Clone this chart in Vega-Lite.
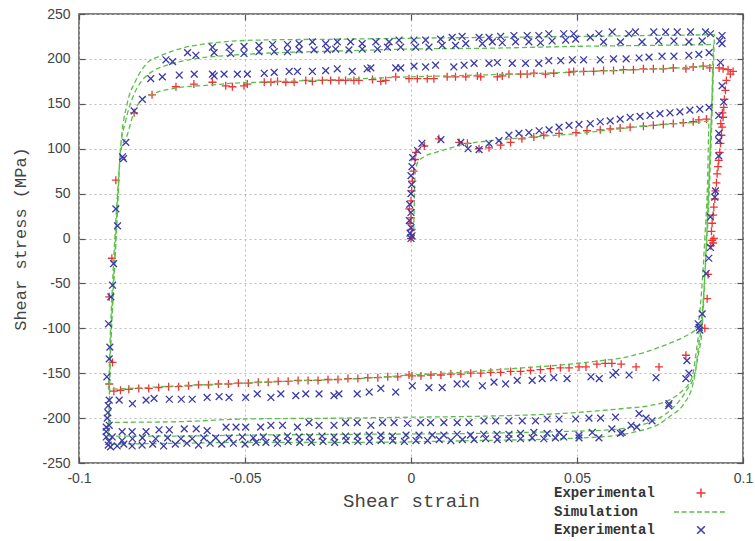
{
"$schema": "https://vega.github.io/schema/vega-lite/v6.json",
"width": 664, "height": 449,
"autosize": {"type": "none"},
"padding": {"left": 79, "top": 14, "right": 12, "bottom": 78},
"background": "white",
"config": {
  "view": {"stroke": "#555", "strokeWidth": 1.5},
  "axis": {"domain": false, "gridColor": "#bbb", "gridDash": [2, 3], "gridWidth": 1, "tickColor": "#555", "tickSize": -6, "tickWidth": 1.2, "labelFont": "Liberation Sans", "labelFontSize": 14, "labelColor": "#444", "titleFont": "Liberation Mono", "titleFontWeight": "normal", "titleColor": "#444"},
  "legend": {"orient": "none", "legendX": 465, "legendY": 472, "direction": "vertical", "labelFont": "Liberation Mono", "labelFontSize": 14, "labelFontWeight": "bold", "labelColor": "#333", "symbolOffset": 150, "labelOffset": -154, "symbolSize": 81, "symbolStrokeWidth": 1.5, "rowPadding": 4, "padding": 0}
},
"datasets": {
"sim": [
{"i":0,"strain":0.0008,"stress":0},{"i":1,"strain":0.001,"stress":40},{"i":2,"strain":0.0012,"stress":70},{"i":3,"strain":0.002,"stress":85},{"i":4,"strain":0.004,"stress":91},{"i":5,"strain":0.0075,"stress":96},{"i":6,"strain":0.012,"stress":101},{"i":7,"strain":0.016,"stress":105},{"i":8,"strain":0.022,"stress":108},{"i":9,"strain":0.03,"stress":111},{"i":10,"strain":0.04,"stress":114},{"i":11,"strain":0.0506,"stress":117},{"i":12,"strain":0.06,"stress":121},{"i":13,"strain":0.07,"stress":125},{"i":14,"strain":0.08,"stress":128},{"i":15,"strain":0.0898,"stress":131},
{"i":16,"strain":0.0893,"stress":60},{"i":17,"strain":0.0885,"stress":0},{"i":18,"strain":0.0875,"stress":-60},{"i":19,"strain":0.0862,"stress":-99},{"i":20,"strain":0.082,"stress":-110},{"i":21,"strain":0.0777,"stress":-117},{"i":22,"strain":0.071,"stress":-126},{"i":23,"strain":0.0648,"stress":-132},{"i":24,"strain":0.055,"stress":-137},{"i":25,"strain":0.0446,"stress":-141},{"i":26,"strain":0.03,"stress":-145},{"i":27,"strain":0.015,"stress":-149},{"i":28,"strain":0,"stress":-152},{"i":29,"strain":-0.0157,"stress":-156},{"i":30,"strain":-0.03,"stress":-158},{"i":31,"strain":-0.05,"stress":-161},{"i":32,"strain":-0.07,"stress":-164},{"i":33,"strain":-0.085,"stress":-167},{"i":34,"strain":-0.0912,"stress":-168},
{"i":35,"strain":-0.0905,"stress":-100},{"i":36,"strain":-0.0895,"stress":-20},{"i":37,"strain":-0.0884,"stress":50},{"i":38,"strain":-0.0874,"stress":98},{"i":39,"strain":-0.0855,"stress":115},{"i":40,"strain":-0.0835,"stress":140},{"i":41,"strain":-0.0815,"stress":153},{"i":42,"strain":-0.0785,"stress":160},{"i":43,"strain":-0.0755,"stress":164},{"i":44,"strain":-0.07,"stress":168},{"i":45,"strain":-0.06,"stress":171},{"i":46,"strain":-0.0536,"stress":173},{"i":47,"strain":-0.0455,"stress":174},{"i":48,"strain":-0.03,"stress":176},{"i":49,"strain":-0.015,"stress":178},{"i":50,"strain":0,"stress":180},{"i":51,"strain":0.02,"stress":182},{"i":52,"strain":0.04,"stress":184},{"i":53,"strain":0.06,"stress":187},{"i":54,"strain":0.075,"stress":189},{"i":55,"strain":0.0912,"stress":193},
{"i":56,"strain":0.0905,"stress":140},{"i":57,"strain":0.0895,"stress":40},{"i":58,"strain":0.0885,"stress":-40},{"i":59,"strain":0.0875,"stress":-90},{"i":60,"strain":0.0867,"stress":-106},{"i":61,"strain":0.0846,"stress":-155},{"i":62,"strain":0.081,"stress":-172},{"i":63,"strain":0.0777,"stress":-180},{"i":64,"strain":0.072,"stress":-186},{"i":65,"strain":0.0648,"stress":-189},{"i":66,"strain":0.0446,"stress":-195},{"i":67,"strain":0.02,"stress":-198},{"i":68,"strain":0,"stress":-199},{"i":69,"strain":-0.02,"stress":-200},{"i":70,"strain":-0.05,"stress":-201},{"i":71,"strain":-0.07,"stress":-204},{"i":72,"strain":-0.0912,"stress":-205},
{"i":73,"strain":-0.0905,"stress":-120},{"i":74,"strain":-0.0895,"stress":-40},{"i":75,"strain":-0.0884,"stress":40},{"i":76,"strain":-0.0875,"stress":100},{"i":77,"strain":-0.086,"stress":130},{"i":78,"strain":-0.0835,"stress":160},{"i":79,"strain":-0.081,"stress":176},{"i":80,"strain":-0.0775,"stress":187},{"i":81,"strain":-0.0735,"stress":193},{"i":82,"strain":-0.0635,"stress":201},{"i":83,"strain":-0.0545,"stress":204},{"i":84,"strain":-0.0455,"stress":206},{"i":85,"strain":-0.02,"stress":209},{"i":86,"strain":0,"stress":211},{"i":87,"strain":0.025,"stress":212},{"i":88,"strain":0.05,"stress":214},{"i":89,"strain":0.07,"stress":215},{"i":90,"strain":0.0912,"stress":216},
{"i":91,"strain":0.0905,"stress":140},{"i":92,"strain":0.0895,"stress":40},{"i":93,"strain":0.0885,"stress":-40},{"i":94,"strain":0.0875,"stress":-100},{"i":95,"strain":0.087,"stress":-110},{"i":96,"strain":0.0855,"stress":-150},{"i":97,"strain":0.083,"stress":-169},{"i":98,"strain":0.0785,"stress":-190},{"i":99,"strain":0.073,"stress":-203},{"i":100,"strain":0.066,"stress":-210},{"i":101,"strain":0.06,"stress":-213},{"i":102,"strain":0.045,"stress":-215},{"i":103,"strain":0.02,"stress":-217},{"i":104,"strain":-0.016,"stress":-218},{"i":105,"strain":-0.05,"stress":-219},{"i":106,"strain":-0.07,"stress":-220},{"i":107,"strain":-0.0912,"stress":-220},
{"i":108,"strain":-0.0905,"stress":-130},{"i":109,"strain":-0.0895,"stress":-50},{"i":110,"strain":-0.0884,"stress":30},{"i":111,"strain":-0.0875,"stress":100},{"i":112,"strain":-0.0855,"stress":150},{"i":113,"strain":-0.083,"stress":175},{"i":114,"strain":-0.0796,"stress":195},{"i":115,"strain":-0.0757,"stress":203},{"i":116,"strain":-0.0717,"stress":209},{"i":117,"strain":-0.0615,"stress":217},{"i":118,"strain":-0.0455,"stress":221},{"i":119,"strain":-0.02,"stress":222},{"i":120,"strain":0,"stress":223},{"i":121,"strain":0.05,"stress":225},{"i":122,"strain":0.07,"stress":226},{"i":123,"strain":0.0915,"stress":227},
{"i":124,"strain":0.0908,"stress":150},{"i":125,"strain":0.0898,"stress":50},{"i":126,"strain":0.0887,"stress":-30},{"i":127,"strain":0.0877,"stress":-100},{"i":128,"strain":0.0865,"stress":-130},{"i":129,"strain":0.085,"stress":-161},{"i":130,"strain":0.082,"stress":-185},{"i":131,"strain":0.078,"stress":-198},{"i":132,"strain":0.075,"stress":-206},{"i":133,"strain":0.068,"stress":-215},{"i":134,"strain":0.06,"stress":-220},{"i":135,"strain":0.045,"stress":-223},{"i":136,"strain":0.02,"stress":-225},{"i":137,"strain":-0.016,"stress":-227},{"i":138,"strain":-0.05,"stress":-227},{"i":139,"strain":-0.07,"stress":-228},{"i":140,"strain":-0.0912,"stress":-229}
],
"red": [
{"strain":0,"stress":0},{"strain":0,"stress":4},{"strain":0.0002,"stress":10},{"strain":-0.0003,"stress":17},{"strain":0,"stress":23},{"strain":-0.0005,"stress":33},{"strain":0,"stress":42},{"strain":0.0002,"stress":53},{"strain":0.0004,"stress":64},{"strain":0.0008,"stress":75},{"strain":0.0012,"stress":88},{"strain":0.0015,"stress":96},{"strain":0.004,"stress":103},{"strain":0.0084,"stress":111},{"strain":0.0145,"stress":107},{"strain":0.017,"stress":106},{"strain":0.0205,"stress":100},{"strain":0.0235,"stress":101},{"strain":0.027,"stress":104},{"strain":0.03,"stress":107},{"strain":0.0334,"stress":111},{"strain":0.037,"stress":113},{"strain":0.04,"stress":115},{"strain":0.0446,"stress":117},{"strain":0.0497,"stress":118},{"strain":0.053,"stress":120},{"strain":0.057,"stress":121},{"strain":0.06,"stress":122},{"strain":0.063,"stress":123},{"strain":0.066,"stress":124},{"strain":0.07,"stress":125},{"strain":0.073,"stress":126},{"strain":0.076,"stress":127},{"strain":0.079,"stress":128},{"strain":0.082,"stress":129},{"strain":0.085,"stress":130},{"strain":0.0867,"stress":132},{"strain":0.089,"stress":133},
{"strain":0.0928,"stress":190},{"strain":0.094,"stress":189},{"strain":0.0955,"stress":188},{"strain":0.097,"stress":186},{"strain":0.0962,"stress":183},{"strain":0.095,"stress":176},{"strain":0.0947,"stress":165},{"strain":0.0944,"stress":155},{"strain":0.0942,"stress":146},{"strain":0.0938,"stress":140},{"strain":0.094,"stress":135},{"strain":0.0933,"stress":128},{"strain":0.0937,"stress":124},{"strain":0.0935,"stress":115},{"strain":0.0932,"stress":106},{"strain":0.093,"stress":96},{"strain":0.0927,"stress":87},{"strain":0.0925,"stress":80},{"strain":0.0922,"stress":72},{"strain":0.092,"stress":62},{"strain":0.0917,"stress":53},{"strain":0.0915,"stress":44},{"strain":0.0912,"stress":35},{"strain":0.091,"stress":26},{"strain":0.0907,"stress":17},{"strain":0.0905,"stress":8},{"strain":0.0912,"stress":0},{"strain":0.0907,"stress":-2},{"strain":0.091,"stress":-5},{"strain":0.0903,"stress":-8},
{"strain":0.0895,"stress":-40},{"strain":0.0892,"stress":-67},{"strain":0.0885,"stress":-100},{"strain":0.0828,"stress":-130},{"strain":0.0747,"stress":-143},{"strain":0.0678,"stress":-143},{"strain":0.0633,"stress":-140},{"strain":0.0605,"stress":-139},{"strain":0.0585,"stress":-139},{"strain":0.056,"stress":-140},{"strain":0.0527,"stress":-143},{"strain":0.0506,"stress":-143},{"strain":0.0476,"stress":-144},{"strain":0.045,"stress":-144},{"strain":0.042,"stress":-145},{"strain":0.039,"stress":-146},{"strain":0.036,"stress":-147},{"strain":0.033,"stress":-148},{"strain":0.03,"stress":-148},{"strain":0.027,"stress":-149},{"strain":0.024,"stress":-149},{"strain":0.021,"stress":-150},{"strain":0.018,"stress":-150},{"strain":0.015,"stress":-151},{"strain":0.012,"stress":-151},{"strain":0.009,"stress":-152},{"strain":0.006,"stress":-152},{"strain":0.003,"stress":-153},{"strain":0.0003,"stress":-153},{"strain":-0.0006,"stress":-152},{"strain":-0.004,"stress":-154},{"strain":-0.007,"stress":-154},{"strain":-0.01,"stress":-155},{"strain":-0.013,"stress":-155},{"strain":-0.016,"stress":-156},{"strain":-0.019,"stress":-156},{"strain":-0.022,"stress":-157},{"strain":-0.025,"stress":-157},{"strain":-0.028,"stress":-158},{"strain":-0.031,"stress":-158},{"strain":-0.034,"stress":-158},{"strain":-0.037,"stress":-159},{"strain":-0.04,"stress":-159},{"strain":-0.043,"stress":-160},{"strain":-0.046,"stress":-160},{"strain":-0.049,"stress":-161},{"strain":-0.052,"stress":-161},{"strain":-0.055,"stress":-162},{"strain":-0.058,"stress":-162},{"strain":-0.061,"stress":-163},{"strain":-0.064,"stress":-163},{"strain":-0.067,"stress":-164},{"strain":-0.07,"stress":-165},{"strain":-0.073,"stress":-165},{"strain":-0.076,"stress":-166},{"strain":-0.079,"stress":-167},{"strain":-0.082,"stress":-167},{"strain":-0.085,"stress":-168},{"strain":-0.0875,"stress":-169},{"strain":-0.0895,"stress":-170},
{"strain":-0.0909,"stress":-162},{"strain":-0.0899,"stress":-138},{"strain":-0.0909,"stress":-65},{"strain":-0.0901,"stress":-22},{"strain":-0.0889,"stress":65},
{"strain":-0.0834,"stress":140},{"strain":-0.078,"stress":160},{"strain":-0.0708,"stress":169},{"strain":-0.0654,"stress":172},{"strain":-0.0598,"stress":174},{"strain":-0.0558,"stress":170},{"strain":-0.0538,"stress":169},{"strain":-0.0503,"stress":170},{"strain":-0.0493,"stress":172},{"strain":-0.0442,"stress":174},{"strain":-0.0422,"stress":174},{"strain":-0.0402,"stress":175},{"strain":-0.0377,"stress":174},{"strain":-0.0352,"stress":174},{"strain":-0.0317,"stress":176},{"strain":-0.0297,"stress":175},{"strain":-0.0267,"stress":176},{"strain":-0.0242,"stress":176},{"strain":-0.0217,"stress":176},{"strain":-0.0197,"stress":176},{"strain":-0.0172,"stress":176},{"strain":-0.0157,"stress":176},{"strain":-0.0116,"stress":177},{"strain":-0.0091,"stress":175},{"strain":-0.0076,"stress":176},{"strain":-0.0046,"stress":180},{"strain":-0.0006,"stress":178},{"strain":0.0019,"stress":178},{"strain":0.0049,"stress":178},{"strain":0.0069,"stress":178},{"strain":0.0109,"stress":180},{"strain":0.0134,"stress":180},{"strain":0.0165,"stress":180},{"strain":0.02,"stress":181},{"strain":0.021,"stress":180},{"strain":0.026,"stress":180},{"strain":0.0275,"stress":181},{"strain":0.0295,"stress":183},{"strain":0.033,"stress":183},{"strain":0.035,"stress":183},{"strain":0.037,"stress":184},{"strain":0.0405,"stress":183},{"strain":0.043,"stress":184},{"strain":0.0476,"stress":185},{"strain":0.049,"stress":186},{"strain":0.052,"stress":186},{"strain":0.055,"stress":186},{"strain":0.058,"stress":187},{"strain":0.061,"stress":187},{"strain":0.064,"stress":188},{"strain":0.067,"stress":188},{"strain":0.07,"stress":189},{"strain":0.073,"stress":189},{"strain":0.076,"stress":189},{"strain":0.079,"stress":190},{"strain":0.0828,"stress":189},{"strain":0.085,"stress":191},{"strain":0.088,"stress":192},{"strain":0.09,"stress":190}
],
"blue": [
{"strain":0,"stress":0},{"strain":0.0003,"stress":3},{"strain":-0.0003,"stress":6},{"strain":0,"stress":12},{"strain":-0.0005,"stress":20},{"strain":0,"stress":29},{"strain":-0.0004,"stress":38},{"strain":0,"stress":50},{"strain":0.0002,"stress":60},{"strain":0,"stress":70},{"strain":0.0003,"stress":80},{"strain":0.0005,"stress":90},{"strain":0.002,"stress":98},{"strain":0.0033,"stress":106},{"strain":0.009,"stress":110},{"strain":0.015,"stress":107},{"strain":0.0172,"stress":100},{"strain":0.0205,"stress":99},{"strain":0.0235,"stress":106},{"strain":0.0265,"stress":109},{"strain":0.0295,"stress":115},{"strain":0.0325,"stress":117},{"strain":0.0355,"stress":118},{"strain":0.0386,"stress":120},{"strain":0.0416,"stress":121},{"strain":0.0446,"stress":124},{"strain":0.0476,"stress":126},{"strain":0.0506,"stress":127},{"strain":0.054,"stress":128},{"strain":0.057,"stress":130},{"strain":0.06,"stress":131},{"strain":0.063,"stress":133},{"strain":0.066,"stress":135},{"strain":0.069,"stress":136},{"strain":0.072,"stress":137},{"strain":0.075,"stress":139},{"strain":0.078,"stress":140},{"strain":0.081,"stress":141},{"strain":0.084,"stress":143},{"strain":0.087,"stress":144},{"strain":0.0898,"stress":146},
{"strain":0.0937,"stress":226},{"strain":0.093,"stress":220},{"strain":0.0937,"stress":217},{"strain":0.0932,"stress":196},{"strain":0.0937,"stress":170},{"strain":0.0942,"stress":152},{"strain":0.0927,"stress":137},{"strain":0.0927,"stress":117},{"strain":0.0927,"stress":109},{"strain":0.0927,"stress":92},{"strain":0.0917,"stress":53},{"strain":0.0915,"stress":46},{"strain":0.0902,"stress":24},{"strain":0.0902,"stress":-10},{"strain":0.0897,"stress":-22},{"strain":0.0889,"stress":-39},{"strain":0.0877,"stress":-84},{"strain":0.0868,"stress":-99},{"strain":0.0865,"stress":-95},{"strain":0.087,"stress":-102},{"strain":0.0831,"stress":-136},{"strain":0.0837,"stress":-150},{"strain":0.0828,"stress":-156},{"strain":0.0777,"stress":-184},{"strain":0.0776,"stress":-186},{"strain":0.0726,"stress":-203},{"strain":0.0708,"stress":-200},{"strain":0.0687,"stress":-195},{"strain":0.0663,"stress":-208},{"strain":0.0636,"stress":-216},{"strain":0.0605,"stress":-212},{"strain":0.0566,"stress":-222},
{"strain":-0.0916,"stress":-154},{"strain":-0.0909,"stress":-180},{"strain":-0.0879,"stress":-180},{"strain":-0.0839,"stress":-184},{"strain":-0.0798,"stress":-180},{"strain":-0.0774,"stress":-178},{"strain":-0.0728,"stress":-179},{"strain":-0.0692,"stress":-179},{"strain":-0.0659,"stress":-179},{"strain":-0.0614,"stress":-177},{"strain":-0.0578,"stress":-176},{"strain":-0.0548,"stress":-177},{"strain":-0.0498,"stress":-177},{"strain":-0.0463,"stress":-173},{"strain":-0.0422,"stress":-177},{"strain":-0.0392,"stress":-173},{"strain":-0.0347,"stress":-175},{"strain":-0.0317,"stress":-173},{"strain":-0.0277,"stress":-173},{"strain":-0.0232,"stress":-175},{"strain":-0.0217,"stress":-173},{"strain":-0.0162,"stress":-173},{"strain":-0.0126,"stress":-171},{"strain":-0.0091,"stress":-167},{"strain":-0.0046,"stress":-171},{"strain":0.0004,"stress":-164},{"strain":0.0054,"stress":-166},{"strain":0.0094,"stress":-166},{"strain":0.0139,"stress":-162},{"strain":0.0165,"stress":-162},{"strain":0.0215,"stress":-164},{"strain":0.025,"stress":-160},{"strain":0.0285,"stress":-162},{"strain":0.032,"stress":-158},{"strain":0.0365,"stress":-158},{"strain":0.0395,"stress":-156},{"strain":0.043,"stress":-155},{"strain":0.047,"stress":-156},{"strain":0.0542,"stress":-154},{"strain":0.0567,"stress":-156},{"strain":0.0608,"stress":-152},{"strain":0.0617,"stress":-149},{"strain":0.0657,"stress":-152},{"strain":0.0738,"stress":-155},
{"strain":-0.0918,"stress":-210},{"strain":-0.0909,"stress":-208},{"strain":-0.087,"stress":-215},{"strain":-0.084,"stress":-215},{"strain":-0.0798,"stress":-215},{"strain":-0.0759,"stress":-213},{"strain":-0.0728,"stress":-213},{"strain":-0.0683,"stress":-212},{"strain":-0.0647,"stress":-212},{"strain":-0.0614,"stress":-214},{"strain":-0.0557,"stress":-210},{"strain":-0.0527,"stress":-210},{"strain":-0.0498,"stress":-210},{"strain":-0.0453,"stress":-210},{"strain":-0.0422,"stress":-208},{"strain":-0.0387,"stress":-208},{"strain":-0.0342,"stress":-210},{"strain":-0.0307,"stress":-205},{"strain":-0.0277,"stress":-208},{"strain":-0.0232,"stress":-208},{"strain":-0.0197,"stress":-205},{"strain":-0.0162,"stress":-205},{"strain":-0.0121,"stress":-208},{"strain":-0.0086,"stress":-205},{"strain":-0.0051,"stress":-205},{"strain":-0.0011,"stress":-206},{"strain":0.0029,"stress":-205},{"strain":0.0059,"stress":-205},{"strain":0.0099,"stress":-205},{"strain":0.0139,"stress":-205},{"strain":0.0175,"stress":-205},{"strain":0.022,"stress":-203},{"strain":0.0255,"stress":-203},{"strain":0.0295,"stress":-203},{"strain":0.0335,"stress":-203},{"strain":0.0375,"stress":-203},{"strain":0.041,"stress":-201},{"strain":0.0446,"stress":-201},{"strain":0.0496,"stress":-201},{"strain":0.0536,"stress":-200},{"strain":0.0571,"stress":-200},{"strain":0.0616,"stress":-199},
{"strain":-0.0918,"stress":-221},{"strain":-0.09,"stress":-221},{"strain":-0.087,"stress":-225},{"strain":-0.0839,"stress":-223},{"strain":-0.0809,"stress":-222},{"strain":-0.0769,"stress":-223},{"strain":-0.0733,"stress":-222},{"strain":-0.0693,"stress":-223},{"strain":-0.0659,"stress":-223},{"strain":-0.0624,"stress":-222},{"strain":-0.0588,"stress":-222},{"strain":-0.0548,"stress":-222},{"strain":-0.0508,"stress":-221},{"strain":-0.0475,"stress":-222},{"strain":-0.0445,"stress":-221},{"strain":-0.0405,"stress":-222},{"strain":-0.0372,"stress":-220},{"strain":-0.0337,"stress":-221},{"strain":-0.0305,"stress":-221},{"strain":-0.0268,"stress":-220},{"strain":-0.0232,"stress":-221},{"strain":-0.0197,"stress":-220},{"strain":-0.0162,"stress":-220},{"strain":-0.0126,"stress":-219},{"strain":-0.0091,"stress":-219},{"strain":-0.0056,"stress":-220},{"strain":-0.0015,"stress":-219},{"strain":0.0024,"stress":-219},{"strain":0.0064,"stress":-219},{"strain":0.0099,"stress":-219},{"strain":0.0139,"stress":-218},{"strain":0.0179,"stress":-219},{"strain":0.0219,"stress":-218},{"strain":0.0259,"stress":-218},{"strain":0.0295,"stress":-218},{"strain":0.033,"stress":-217},{"strain":0.037,"stress":-216},{"strain":0.041,"stress":-217},{"strain":0.0446,"stress":-216},{"strain":0.0506,"stress":-219},{"strain":0.0546,"stress":-216},
{"strain":-0.0912,"stress":-230},{"strain":-0.0905,"stress":-232},{"strain":-0.0885,"stress":-231},{"strain":-0.0865,"stress":-229},{"strain":-0.084,"stress":-231},{"strain":-0.081,"stress":-230},{"strain":-0.0778,"stress":-229},{"strain":-0.0745,"stress":-231},{"strain":-0.071,"stress":-229},{"strain":-0.0675,"stress":-228},{"strain":-0.064,"stress":-230},{"strain":-0.0605,"stress":-228},{"strain":-0.057,"stress":-229},{"strain":-0.0535,"stress":-228},{"strain":-0.05,"stress":-229},{"strain":-0.0467,"stress":-227},{"strain":-0.0437,"stress":-227},{"strain":-0.0402,"stress":-228},{"strain":-0.037,"stress":-226},{"strain":-0.0335,"stress":-227},{"strain":-0.03,"stress":-227},{"strain":-0.0265,"stress":-226},{"strain":-0.023,"stress":-227},{"strain":-0.0195,"stress":-225},{"strain":-0.016,"stress":-226},{"strain":-0.0125,"stress":-226},{"strain":-0.009,"stress":-225},{"strain":-0.0055,"stress":-225},{"strain":-0.002,"stress":-226},{"strain":0.0015,"stress":-225},{"strain":0.005,"stress":-225},{"strain":0.0085,"stress":-224},{"strain":0.012,"stress":-225},{"strain":0.0155,"stress":-224},{"strain":0.019,"stress":-224},{"strain":0.0225,"stress":-223},{"strain":0.026,"stress":-224},{"strain":0.0295,"stress":-223},{"strain":0.033,"stress":-223},{"strain":0.0365,"stress":-222},{"strain":0.04,"stress":-223},{"strain":0.0435,"stress":-222},{"strain":0.046,"stress":-221},{"strain":0.0506,"stress":-222},{"strain":0.0631,"stress":-217},{"strain":0.068,"stress":-210},
{"strain":-0.0869,"stress":91},{"strain":-0.0866,"stress":89},{"strain":-0.0859,"stress":107},{"strain":-0.0834,"stress":142},{"strain":-0.0809,"stress":155},{"strain":-0.0784,"stress":178},{"strain":-0.0749,"stress":180},{"strain":-0.0698,"stress":182},{"strain":-0.0653,"stress":183},{"strain":-0.0598,"stress":183},{"strain":-0.0593,"stress":181},{"strain":-0.0563,"stress":183},{"strain":-0.0523,"stress":183},{"strain":-0.0493,"stress":183},{"strain":-0.0442,"stress":184},{"strain":-0.0412,"stress":185},{"strain":-0.0367,"stress":186},{"strain":-0.0342,"stress":186},{"strain":-0.0297,"stress":186},{"strain":-0.0257,"stress":187},{"strain":-0.0222,"stress":189},{"strain":-0.0177,"stress":186},{"strain":-0.0132,"stress":189},{"strain":-0.0121,"stress":190},{"strain":-0.0046,"stress":190},{"strain":-0.0031,"stress":190},{"strain":0.0009,"stress":192},{"strain":0.0044,"stress":191},{"strain":0.0074,"stress":193},{"strain":0.0129,"stress":191},{"strain":0.016,"stress":193},{"strain":0.019,"stress":195},{"strain":0.0235,"stress":195},{"strain":0.026,"stress":196},{"strain":0.0305,"stress":195},{"strain":0.0345,"stress":195},{"strain":0.0385,"stress":195},{"strain":0.0415,"stress":198},{"strain":0.0451,"stress":198},{"strain":0.0486,"stress":199},{"strain":0.052,"stress":199},{"strain":0.057,"stress":199},{"strain":0.061,"stress":200},{"strain":0.0648,"stress":200},{"strain":0.0687,"stress":201},{"strain":0.0717,"stress":202},{"strain":0.0756,"stress":203},{"strain":0.0792,"stress":203},{"strain":0.0837,"stress":204},{"strain":0.0867,"stress":205},{"strain":0.0898,"stress":207},
{"strain":-0.0738,"stress":199},{"strain":-0.0718,"stress":197},{"strain":-0.0673,"stress":207},{"strain":-0.0648,"stress":204},{"strain":-0.0593,"stress":207},{"strain":-0.0543,"stress":206},{"strain":-0.0503,"stress":206},{"strain":-0.0458,"stress":208},{"strain":-0.0412,"stress":208},{"strain":-0.0372,"stress":208},{"strain":-0.0337,"stress":210},{"strain":-0.0292,"stress":210},{"strain":-0.0252,"stress":210},{"strain":-0.0227,"stress":211},{"strain":-0.0187,"stress":210},{"strain":-0.0147,"stress":211},{"strain":-0.0101,"stress":211},{"strain":-0.0071,"stress":213},{"strain":-0.0031,"stress":213},{"strain":0.0014,"stress":213},{"strain":0.0054,"stress":213},{"strain":0.0094,"stress":215},{"strain":0.0134,"stress":215},{"strain":0.0165,"stress":217},{"strain":0.0215,"stress":217},{"strain":0.0245,"stress":219},{"strain":0.0275,"stress":218},{"strain":0.0315,"stress":219},{"strain":0.0355,"stress":219},{"strain":0.039,"stress":218},{"strain":0.0425,"stress":220},{"strain":0.0466,"stress":221},{"strain":0.0496,"stress":222},{"strain":0.054,"stress":224},{"strain":0.058,"stress":219},{"strain":0.0631,"stress":219},{"strain":0.0696,"stress":219},{"strain":0.0746,"stress":220},{"strain":0.0792,"stress":220},{"strain":0.0837,"stress":219},{"strain":0.0877,"stress":220},
{"strain":-0.0598,"stress":213},{"strain":-0.0548,"stress":213},{"strain":-0.0503,"stress":214},{"strain":-0.0458,"stress":215},{"strain":-0.0417,"stress":216},{"strain":-0.0372,"stress":216},{"strain":-0.0337,"stress":217},{"strain":-0.0297,"stress":219},{"strain":-0.0257,"stress":217},{"strain":-0.0222,"stress":219},{"strain":-0.0182,"stress":219},{"strain":-0.0147,"stress":217},{"strain":-0.0106,"stress":219},{"strain":-0.0066,"stress":219},{"strain":-0.0036,"stress":221},{"strain":0.0009,"stress":221},{"strain":0.0044,"stress":221},{"strain":0.0089,"stress":222},{"strain":0.0124,"stress":224},{"strain":0.0154,"stress":225},{"strain":0.0205,"stress":224},{"strain":0.0235,"stress":224},{"strain":0.027,"stress":225},{"strain":0.031,"stress":226},{"strain":0.035,"stress":226},{"strain":0.0385,"stress":226},{"strain":0.0415,"stress":228},{"strain":0.046,"stress":228},{"strain":0.049,"stress":228},{"strain":0.0566,"stress":228},{"strain":0.0606,"stress":230},{"strain":0.0656,"stress":228},{"strain":0.0676,"stress":230},{"strain":0.0731,"stress":230},{"strain":0.0767,"stress":230},{"strain":0.0802,"stress":230},{"strain":0.0842,"stress":230},{"strain":0.0887,"stress":230},{"strain":0.0902,"stress":228},
{"strain":-0.0889,"stress":33},{"strain":-0.0884,"stress":14},{"strain":-0.0896,"stress":-28},{"strain":-0.0899,"stress":-52},{"strain":-0.0904,"stress":-65},{"strain":-0.0911,"stress":-95},{"strain":-0.0907,"stress":-121},{"strain":-0.0909,"stress":-134},{"strain":-0.0912,"stress":-186},{"strain":-0.0913,"stress":-194},{"strain":-0.0915,"stress":-200},{"strain":-0.0918,"stress":-215},{"strain":-0.091,"stress":-226}
]
},
"layer": [
{
  "data": {"name": "red"},
  "mark": {"type": "point", "filled": false, "size": 64, "strokeWidth": 1.3, "opacity": 1},
  "encoding": {
    "x": {"field": "strain", "type": "quantitative", "scale": {"domain": [-0.1, 0.1], "nice": false, "zero": false},
      "axis": {"orient": "bottom", "values": [-0.1, -0.05, 0, 0.05, 0.1], "labelExpr": "'' + datum.value", "labelPadding": 14, "title": "Shear strain", "titleFontSize": 19, "titlePadding": 6, "labelFlush": false}},
    "y": {"field": "stress", "type": "quantitative", "scale": {"domain": [-250, 250], "nice": false, "zero": false},
      "axis": {"orient": "left", "values": [-250, -200, -150, -100, -50, 0, 50, 100, 150, 200, 250], "labelExpr": "'' + datum.value", "labelPadding": 15, "title": "Shear stress (MPa)", "titleFontSize": 17, "titlePadding": 12}},
    "color": {"datum": "Experimental 1", "type": "nominal", "scale": {"domain": ["Experimental 1", "Simulation", "Experimental 2"], "range": ["#ee3333", "#5cbf4a", "#3b3ba8"]}, "legend": {"title": null, "labelExpr": "datum.label == 'Simulation' ? 'Simulation' : 'Experimental'"}},
    "shape": {"datum": "Experimental 1", "type": "nominal", "scale": {"domain": ["Experimental 1", "Simulation", "Experimental 2"], "range": ["M-1,0H1M0,-1V1", "M-6,0H-4.9M-4.3,0H-3.2M-2.6,0H-1.5M-0.9,0H0.2M0.8,0H1.9M2.5,0H3.6M4.2,0H5.3", "M-0.85,-0.85L0.85,0.85M-0.85,0.85L0.85,-0.85"]}, "legend": {"title": null, "labelExpr": "datum.label == 'Simulation' ? 'Simulation' : 'Experimental'"}}
  }
},
{
  "data": {"name": "sim"},
  "mark": {"type": "line", "strokeDash": [5, 3], "strokeWidth": 1.3, "interpolate": "monotone"},
  "encoding": {
    "x": {"field": "strain", "type": "quantitative", "axis": {"orient": "top", "labels": false, "grid": false, "title": null, "values": [-0.1, -0.05, 0, 0.05, 0.1]}},
    "y": {"field": "stress", "type": "quantitative", "axis": {"orient": "right", "labels": false, "grid": false, "title": null, "values": [-250, -200, -150, -100, -50, 0, 50, 100, 150, 200, 250]}},
    "order": {"field": "i", "type": "quantitative"},
    "color": {"datum": "Simulation", "type": "nominal", "legend": {"title": null, "labelExpr": "datum.label == 'Simulation' ? 'Simulation' : 'Experimental'"}}
  }
},
{
  "data": {"name": "blue"},
  "mark": {"type": "point", "filled": false, "size": 64, "strokeWidth": 1.3, "opacity": 1},
  "encoding": {
    "x": {"field": "strain", "type": "quantitative", "axis": null},
    "y": {"field": "stress", "type": "quantitative", "axis": null},
    "color": {"datum": "Experimental 2", "type": "nominal", "legend": {"title": null, "labelExpr": "datum.label == 'Simulation' ? 'Simulation' : 'Experimental'"}},
    "shape": {"datum": "Experimental 2", "type": "nominal", "legend": {"title": null, "labelExpr": "datum.label == 'Simulation' ? 'Simulation' : 'Experimental'"}}
  }
}
],
"resolve": {"axis": {"x": "independent", "y": "independent"}}
}
